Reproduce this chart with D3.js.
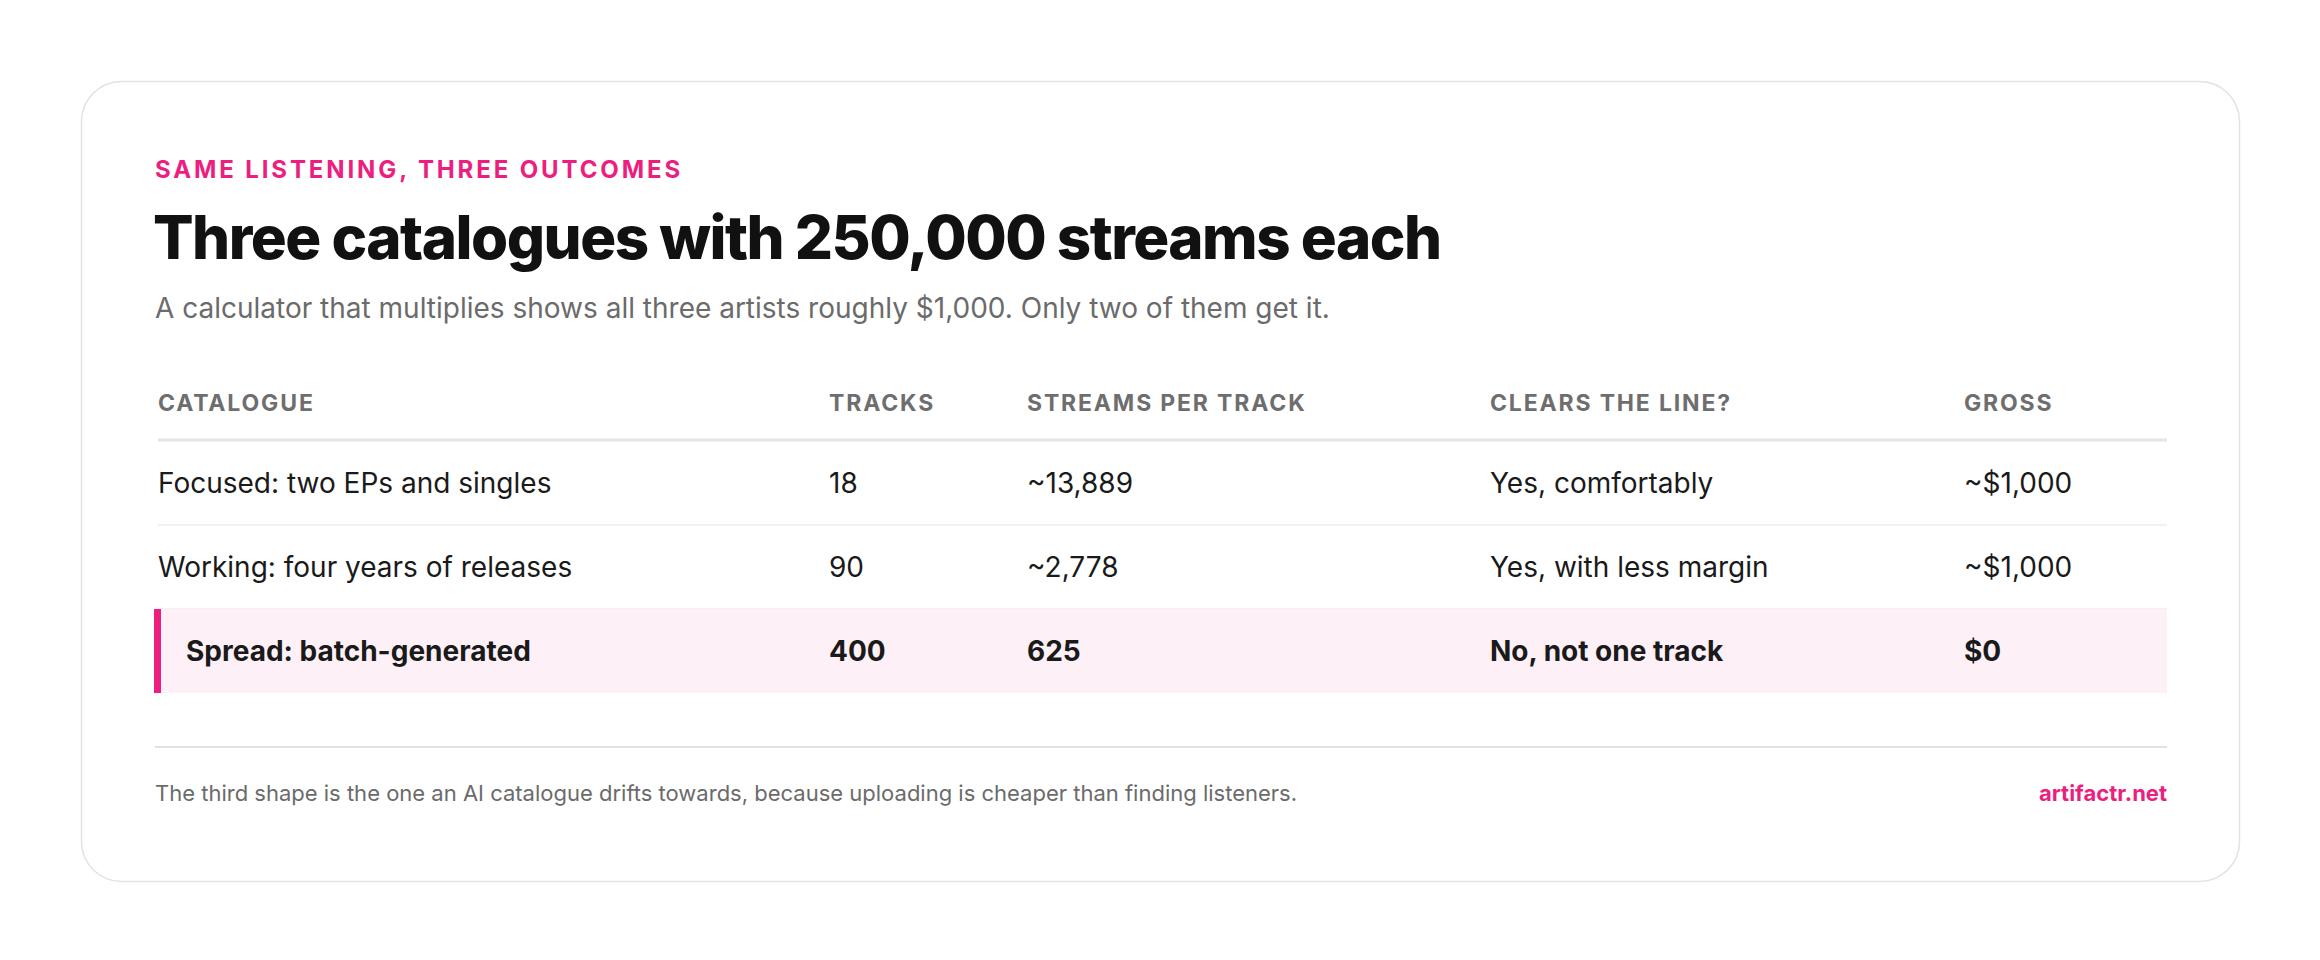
<!DOCTYPE html>
<html>
<head>
<meta charset="utf-8">
<script src="https://cdn.jsdelivr.net/npm/d3@7"></script>
<style>
  html, body { margin: 0; background: #fff; }
  svg { display: block; font-family: Inter, 'Noto Sans', sans-serif; }
</style>
</head>
<body>
<svg id="chart"></svg>
<script>
const columns = ['CATALOGUE', 'TRACKS', 'STREAMS PER TRACK', 'CLEARS THE LINE?', 'GROSS']
const catalogues = ['Focused: two EPs and singles', 'Working: four years of releases', 'Spread: batch-generated']
const tracks = ['18', '90', '400']
const streamsPerTrack = ['~13,889', '~2,778', '625']
const clears = ['Yes, comfortably', 'Yes, with less margin', 'No, not one track']
const gross = ['~$1,000', '~$1,000', '$0']
const highlighted = [false, false, true]

const pink = '#ec1f80'
const width = 2320
const height = 960

const svg = d3.select('#chart')
  .attr('width', width)
  .attr('height', height)

// card
svg.append('rect')
  .attr('x', 81.5).attr('y', 81.5)
  .attr('width', 2158).attr('height', 800)
  .attr('rx', 40)
  .attr('fill', '#fff')
  .attr('stroke', '#e2e2e2')
  .attr('stroke-width', 1.5)

const left = 155
const right = 2167

svg.append('text')
  .attr('x', left).attr('y', 178)
  .attr('fill', pink)
  .attr('font-size', 24).attr('font-weight', 700)
  .attr('letter-spacing', '0.12em')
  .text('SAME LISTENING, THREE OUTCOMES')

svg.append('text')
  .attr('x', left - 2).attr('y', 259)
  .attr('fill', '#111')
  .attr('font-size', 60).attr('font-weight', 800)
  .attr('letter-spacing', '-0.025em')
  .text('Three catalogues with 250,000 streams each')

svg.append('text')
  .attr('x', left).attr('y', 318)
  .attr('fill', '#6b6b6b')
  .attr('font-size', 28)
  .text('A calculator that multiplies shows all three artists roughly $1,000. Only two of them get it.')

// columns
const colX = d3.scaleOrdinal()
  .domain(columns)
  .range([158, 829, 1027, 1490, 1964])

svg.append('g')
  .selectAll('text')
  .data(columns)
  .join('text')
  .attr('x', d => colX(d))
  .attr('y', 411)
  .attr('fill', '#6e6e6e')
  .attr('font-size', 23).attr('font-weight', 700)
  .attr('letter-spacing', '0.08em')
  .text(d => d)

svg.append('line')
  .attr('x1', 158).attr('x2', right)
  .attr('y1', 440).attr('y2', 440)
  .attr('stroke', '#e4e4e4').attr('stroke-width', 3)

const rows = catalogues.map((c, i) => ({
  cells: [c, tracks[i], streamsPerTrack[i], clears[i], gross[i]],
  hi: highlighted[i]
}))

const y = d3.scaleBand()
  .domain(d3.range(rows.length))
  .range([441, 693])

const row = svg.append('g')
  .selectAll('g')
  .data(rows)
  .join('g')
  .attr('transform', (d, i) => `translate(0, ${y(i)})`)

row.filter(d => d.hi).append('rect')
  .attr('x', 154).attr('width', right - 154)
  .attr('height', y.bandwidth())
  .attr('fill', '#fdf0f6')
row.filter(d => d.hi).append('rect')
  .attr('x', 154).attr('width', 7)
  .attr('height', y.bandwidth())
  .attr('fill', pink)
row.filter(d => !d.hi).append('line')
  .attr('x1', 158).attr('x2', right)
  .attr('y1', y.bandwidth()).attr('y2', y.bandwidth())
  .attr('stroke', '#ececec').attr('stroke-width', 1.5)

row.selectAll('text')
  .data(d => d.cells.map((v, j) => ({v, j, hi: d.hi})))
  .join('text')
  .attr('x', d => colX(columns[d.j]) + (d.hi && d.j === 0 ? 28 : 0))
  .attr('y', y.bandwidth() / 2 + 10)
  .attr('fill', '#1a1a1a')
  .attr('font-size', 28)
  .attr('font-weight', d => d.hi ? 700 : 400)
  .text(d => d.v)

// footer
svg.append('line')
  .attr('x1', left).attr('x2', right)
  .attr('y1', 747).attr('y2', 747)
  .attr('stroke', '#e2e2e2').attr('stroke-width', 2)

svg.append('text')
  .attr('x', left).attr('y', 801)
  .attr('fill', '#6b6b6b')
  .attr('font-size', 22)
  .text('The third shape is the one an AI catalogue drifts towards, because uploading is cheaper than finding listeners.')

svg.append('text')
  .attr('x', right).attr('y', 801)
  .attr('text-anchor', 'end')
  .attr('fill', pink)
  .attr('font-size', 22).attr('font-weight', 700)
  .text('artifactr.net')
</script>
</body>
</html>
